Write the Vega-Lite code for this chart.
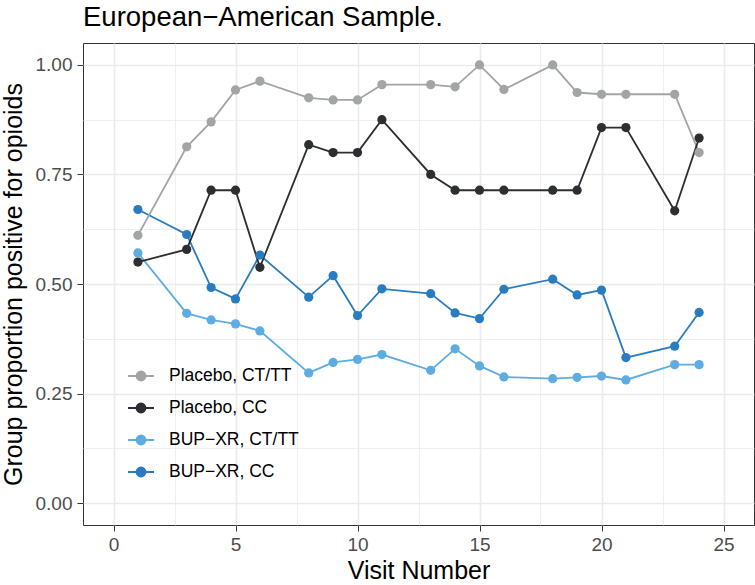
{
  "$schema": "https://vega.github.io/schema/vega-lite/v6.json",
  "autosize": {"type": "none"},
  "width": 671,
  "height": 482,
  "padding": {"left": 83, "top": 43, "right": 1, "bottom": 60},
  "background": "white",
  "title": {
    "text": "European−American Sample.",
    "anchor": "start",
    "frame": "group",
    "orient": "top",
    "baseline": "alphabetic",
    "offset": 18,
    "dy": 28,
    "fontSize": 27.5,
    "fontWeight": "normal",
    "font": "Liberation Sans",
    "color": "#000000"
  },
  "config": {
    "font": "Liberation Sans",
    "view": {"stroke": "#333333", "strokeWidth": 1, "fill": "white"},
    "axis": {
      "domain": false,
      "gridColor": "#ebebeb",
      "tickColor": "#333333",
      "tickSize": 6,
      "tickWidth": 1,
      "labelColor": "#4d4d4d",
      "labelFontSize": 19,
      "labelFont": "Liberation Sans",
      "titleFont": "Liberation Sans",
      "titleFontSize": 25,
      "titleFontWeight": "normal",
      "titleColor": "#000000"
    }
  },
  "data": {
    "values": [
      {"visit": 1, "group": "BUP−XR, CC", "p": 0.670},
      {"visit": 3, "group": "BUP−XR, CC", "p": 0.613},
      {"visit": 4, "group": "BUP−XR, CC", "p": 0.492},
      {"visit": 5, "group": "BUP−XR, CC", "p": 0.466},
      {"visit": 6, "group": "BUP−XR, CC", "p": 0.566},
      {"visit": 8, "group": "BUP−XR, CC", "p": 0.470},
      {"visit": 9, "group": "BUP−XR, CC", "p": 0.519},
      {"visit": 10, "group": "BUP−XR, CC", "p": 0.428},
      {"visit": 11, "group": "BUP−XR, CC", "p": 0.489},
      {"visit": 13, "group": "BUP−XR, CC", "p": 0.478},
      {"visit": 14, "group": "BUP−XR, CC", "p": 0.434},
      {"visit": 15, "group": "BUP−XR, CC", "p": 0.421},
      {"visit": 16, "group": "BUP−XR, CC", "p": 0.488},
      {"visit": 18, "group": "BUP−XR, CC", "p": 0.511},
      {"visit": 19, "group": "BUP−XR, CC", "p": 0.475},
      {"visit": 20, "group": "BUP−XR, CC", "p": 0.486},
      {"visit": 21, "group": "BUP−XR, CC", "p": 0.332},
      {"visit": 23, "group": "BUP−XR, CC", "p": 0.358},
      {"visit": 24, "group": "BUP−XR, CC", "p": 0.435},
      {"visit": 1, "group": "BUP−XR, CT/TT", "p": 0.571},
      {"visit": 3, "group": "BUP−XR, CT/TT", "p": 0.433},
      {"visit": 4, "group": "BUP−XR, CT/TT", "p": 0.418},
      {"visit": 5, "group": "BUP−XR, CT/TT", "p": 0.409},
      {"visit": 6, "group": "BUP−XR, CT/TT", "p": 0.393},
      {"visit": 8, "group": "BUP−XR, CT/TT", "p": 0.297},
      {"visit": 9, "group": "BUP−XR, CT/TT", "p": 0.321},
      {"visit": 10, "group": "BUP−XR, CT/TT", "p": 0.328},
      {"visit": 11, "group": "BUP−XR, CT/TT", "p": 0.339},
      {"visit": 13, "group": "BUP−XR, CT/TT", "p": 0.303},
      {"visit": 14, "group": "BUP−XR, CT/TT", "p": 0.352},
      {"visit": 15, "group": "BUP−XR, CT/TT", "p": 0.313},
      {"visit": 16, "group": "BUP−XR, CT/TT", "p": 0.288},
      {"visit": 18, "group": "BUP−XR, CT/TT", "p": 0.284},
      {"visit": 19, "group": "BUP−XR, CT/TT", "p": 0.287},
      {"visit": 20, "group": "BUP−XR, CT/TT", "p": 0.290},
      {"visit": 21, "group": "BUP−XR, CT/TT", "p": 0.281},
      {"visit": 23, "group": "BUP−XR, CT/TT", "p": 0.316},
      {"visit": 24, "group": "BUP−XR, CT/TT", "p": 0.316},
      {"visit": 1, "group": "Placebo, CT/TT", "p": 0.611},
      {"visit": 3, "group": "Placebo, CT/TT", "p": 0.813},
      {"visit": 4, "group": "Placebo, CT/TT", "p": 0.870},
      {"visit": 5, "group": "Placebo, CT/TT", "p": 0.943},
      {"visit": 6, "group": "Placebo, CT/TT", "p": 0.963},
      {"visit": 8, "group": "Placebo, CT/TT", "p": 0.925},
      {"visit": 9, "group": "Placebo, CT/TT", "p": 0.920},
      {"visit": 10, "group": "Placebo, CT/TT", "p": 0.920},
      {"visit": 11, "group": "Placebo, CT/TT", "p": 0.955},
      {"visit": 13, "group": "Placebo, CT/TT", "p": 0.955},
      {"visit": 14, "group": "Placebo, CT/TT", "p": 0.950},
      {"visit": 15, "group": "Placebo, CT/TT", "p": 1.0},
      {"visit": 16, "group": "Placebo, CT/TT", "p": 0.944},
      {"visit": 18, "group": "Placebo, CT/TT", "p": 1.0},
      {"visit": 19, "group": "Placebo, CT/TT", "p": 0.937},
      {"visit": 20, "group": "Placebo, CT/TT", "p": 0.933},
      {"visit": 21, "group": "Placebo, CT/TT", "p": 0.933},
      {"visit": 23, "group": "Placebo, CT/TT", "p": 0.933},
      {"visit": 24, "group": "Placebo, CT/TT", "p": 0.800},
      {"visit": 1, "group": "Placebo, CC", "p": 0.550},
      {"visit": 3, "group": "Placebo, CC", "p": 0.579},
      {"visit": 4, "group": "Placebo, CC", "p": 0.714},
      {"visit": 5, "group": "Placebo, CC", "p": 0.714},
      {"visit": 6, "group": "Placebo, CC", "p": 0.538},
      {"visit": 8, "group": "Placebo, CC", "p": 0.818},
      {"visit": 9, "group": "Placebo, CC", "p": 0.800},
      {"visit": 10, "group": "Placebo, CC", "p": 0.800},
      {"visit": 11, "group": "Placebo, CC", "p": 0.875},
      {"visit": 13, "group": "Placebo, CC", "p": 0.750},
      {"visit": 14, "group": "Placebo, CC", "p": 0.714},
      {"visit": 15, "group": "Placebo, CC", "p": 0.714},
      {"visit": 16, "group": "Placebo, CC", "p": 0.714},
      {"visit": 18, "group": "Placebo, CC", "p": 0.714},
      {"visit": 19, "group": "Placebo, CC", "p": 0.714},
      {"visit": 20, "group": "Placebo, CC", "p": 0.857},
      {"visit": 21, "group": "Placebo, CC", "p": 0.857},
      {"visit": 23, "group": "Placebo, CC", "p": 0.667},
      {"visit": 24, "group": "Placebo, CC", "p": 0.833}
    ]
  },
  "encoding": {
    "x": {
      "field": "visit",
      "type": "quantitative",
      "title": "Visit Number",
      "scale": {"domain": [-1.25, 26.25], "nice": false, "zero": false},
      "axis": {
        "values": [0, 2.5, 5, 7.5, 10, 12.5, 15, 17.5, 20, 22.5, 25],
        "labelExpr": "datum.value % 5 === 0 ? datum.label : ''",
        "tickOpacity": {"condition": {"test": "datum.value % 5 === 0", "value": 1}, "value": 0},
        "gridWidth": {"condition": {"test": "datum.value % 5 === 0", "value": 1.6}, "value": 0.8},
        "labelPadding": 4,
        "titlePadding": 4
      }
    },
    "y": {
      "field": "p",
      "type": "quantitative",
      "title": "Group proportion positive for opioids",
      "scale": {"domain": [-0.05, 1.05], "nice": false, "zero": false},
      "axis": {
        "values": [0, 0.125, 0.25, 0.375, 0.5, 0.625, 0.75, 0.875, 1],
        "format": ".2f",
        "labelExpr": "abs(datum.value * 4 - round(datum.value * 4)) < 0.001 ? datum.label : ''",
        "tickOpacity": {"condition": {"test": "abs(datum.value * 4 - round(datum.value * 4)) < 0.001", "value": 1}, "value": 0},
        "gridWidth": {"condition": {"test": "abs(datum.value * 4 - round(datum.value * 4)) < 0.001", "value": 1.6}, "value": 0.8},
        "labelPadding": 5,
        "titlePadding": 9
      }
    },
    "color": {
      "field": "group",
      "type": "nominal",
      "title": null,
      "sort": null,
      "scale": {
        "domain": ["Placebo, CT/TT", "Placebo, CC", "BUP−XR, CT/TT", "BUP−XR, CC"],
        "range": ["#A2A4A5", "#2C2E31", "#5DACE2", "#2A7CC1"]
      },
      "legend": {
        "orient": "none",
        "legendX": 44,
        "legendY": 319,
        "padding": 0,
        "symbolType": "M-1,0H1M-0.35,0A0.35,0.35 0 1,0 0.35,0A0.35,0.35 0 1,0 -0.35,0Z",
        "symbolSize": 676,
        "symbolStrokeWidth": 1.8,
        "symbolOpacity": 1,
        "labelFontSize": 17.5,
        "labelFont": "Liberation Sans",
        "labelColor": "#000000",
        "labelOffset": 14,
        "rowPadding": 9,
        "encode": {
          "symbols": {
            "update": {
              "fill": {"scale": "color", "field": "value"},
              "stroke": {"scale": "color", "field": "value"},
              "opacity": {"value": 1}
            }
          }
        }
      }
    }
  },
  "layer": [
    {"mark": {"type": "line", "strokeWidth": 1.8}},
    {"mark": {"type": "point", "filled": true, "size": 85, "opacity": 1}}
  ]
}
